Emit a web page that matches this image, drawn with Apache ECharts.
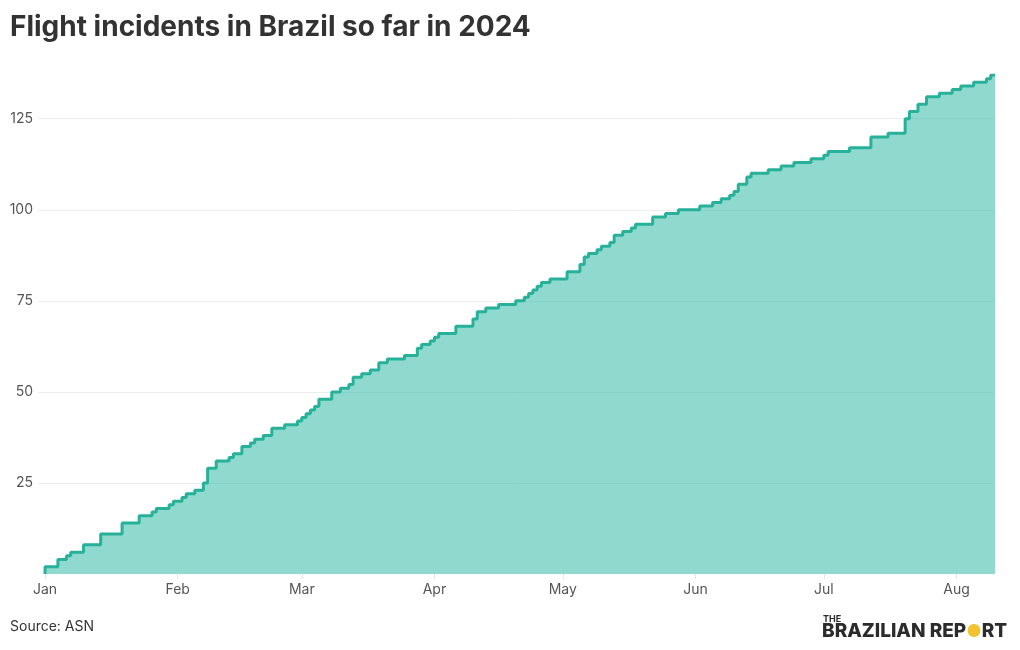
<!DOCTYPE html>
<html>
<head>
<meta charset="utf-8">
<script src="https://cdn.jsdelivr.net/npm/echarts@6/dist/echarts.min.js"></script>
<style>
html,body{margin:0;padding:0;background:#fff;}
#chart{width:1020px;height:650px;}
</style>
</head>
<body>
<div id="chart"></div>
<script>
// Dates on which the cumulative count changed (step points)
const stepDates = ['2024-01-01','2024-01-01','2024-01-04','2024-01-06','2024-01-07','2024-01-10','2024-01-14','2024-01-19','2024-01-23','2024-01-26','2024-01-27','2024-01-30','2024-01-31','2024-02-02','2024-02-03','2024-02-05','2024-02-07','2024-02-08','2024-02-10','2024-02-13','2024-02-14','2024-02-16','2024-02-18','2024-02-19','2024-02-21','2024-02-23','2024-02-26','2024-02-29','2024-03-01','2024-03-02','2024-03-03','2024-03-04','2024-03-05','2024-03-08','2024-03-10','2024-03-12','2024-03-13','2024-03-15','2024-03-17','2024-03-19','2024-03-21','2024-03-25','2024-03-28','2024-03-29','2024-03-31','2024-04-01','2024-04-02','2024-04-06','2024-04-10','2024-04-11','2024-04-13','2024-04-16','2024-04-20','2024-04-22','2024-04-23','2024-04-24','2024-04-25','2024-04-26','2024-04-28','2024-05-02','2024-05-05','2024-05-06','2024-05-07','2024-05-09','2024-05-10','2024-05-12','2024-05-13','2024-05-15','2024-05-17','2024-05-18','2024-05-22','2024-05-25','2024-05-28','2024-06-02','2024-06-05','2024-06-07','2024-06-09','2024-06-10','2024-06-11','2024-06-13','2024-06-14','2024-06-18','2024-06-21','2024-06-24','2024-06-28','2024-07-01','2024-07-02','2024-07-07','2024-07-12','2024-07-16','2024-07-20','2024-07-21','2024-07-23','2024-07-25','2024-07-28','2024-07-31','2024-08-02','2024-08-05','2024-08-08','2024-08-09','2024-08-10'];
// Cumulative number of flight incidents
const incidentCounts = [0,2,4,5,6,8,11,14,16,17,18,19,20,21,22,23,25,29,31,32,33,35,36,37,38,40,41,42,43,44,45,46,48,50,51,52,54,55,56,58,59,60,62,63,64,65,66,68,70,72,73,74,75,76,77,78,79,80,81,83,85,87,88,89,90,91,93,94,95,96,98,99,100,101,102,103,104,105,107,109,110,111,112,113,114,115,116,117,120,121,125,127,129,131,132,133,134,135,136,137,137];
const xStart = '2023-12-30T08:30:00';
const xEnd = '2024-08-10';
const yTicks = [25, 50, 75, 100, 125];

const titleText = 'Flight incidents in Brazil so far in 2024';
const sourceText = 'Source: ASN';

const seriesData = stepDates.map((d, i) => [d, incidentCounts[i]]);

const chart = echarts.init(document.getElementById('chart'), null, {renderer: 'canvas'});
const FONT = 'Inter, Roboto, "Noto Sans", sans-serif';

chart.setOption({
  animation: false,
  backgroundColor: '#ffffff',
  textStyle: {fontFamily: FONT},
  title: {
    text: titleText,
    left: 10, top: 14, padding: 0,
    textStyle: {fontFamily: FONT, fontSize: 28, fontWeight: 'bold', color: '#333333'}
  },
  grid: {left: 38, right: 25, top: 75, bottom: 76, containLabel: false},
  xAxis: {
    type: 'time',
    min: xStart, max: xEnd,
    splitNumber: 8,
    minInterval: 28 * 24 * 3600 * 1000,
    axisLine: {show: false},
    axisTick: {show: true, length: 5, lineStyle: {color: '#e6e6e6'}},
    splitLine: {show: false},
    axisLabel: {
      formatter: '{MMM}',
      color: '#555555', fontSize: 14, fontFamily: FONT, margin: 9,
      showMinLabel: false, showMaxLabel: false, hideOverlap: false
    }
  },
  yAxis: {
    type: 'value',
    min: 0, max: 137, interval: 25,
    axisLine: {show: false},
    axisTick: {show: false},
    splitLine: {show: true, showMinLine: false, showMaxLine: false, lineStyle: {color: '#ececec', width: 1}},
    axisLabel: {
      color: '#555555', fontSize: 14, fontFamily: FONT, margin: 5,
      formatter: v => (yTicks.indexOf(v) >= 0 ? String(v) : '')
    }
  },
  series: [{
    type: 'line',
    step: 'end',
    data: seriesData,
    showSymbol: false,
    symbol: 'none',
    lineStyle: {color: '#27b199', width: 3},
    areaStyle: {color: 'rgba(31,179,159,0.5)', opacity: 1},
    z: 3
  }],
  graphic: [
    {type: 'text', left: 10, top: 620, style: {text: sourceText, font: '14px ' + FONT, fill: '#333333'}},
    {type: 'text', left: 823, top: 615, style: {text: 'THE', font: 'bold 9px ' + FONT, fill: '#2b2b2b'}},
    {type: 'text', left: 822, top: 622, style: {
      text: '{a|BRAZILIAN REP}{o|●}{a|RT}',
      rich: {
        a: {fill: '#2b2b2b', fontSize: 19, fontWeight: 800, fontFamily: FONT},
        o: {fontSize: 17, fill: '#f2c230', fontFamily: FONT}
      }
    }}
  ]
});
</script>
</body>
</html>
